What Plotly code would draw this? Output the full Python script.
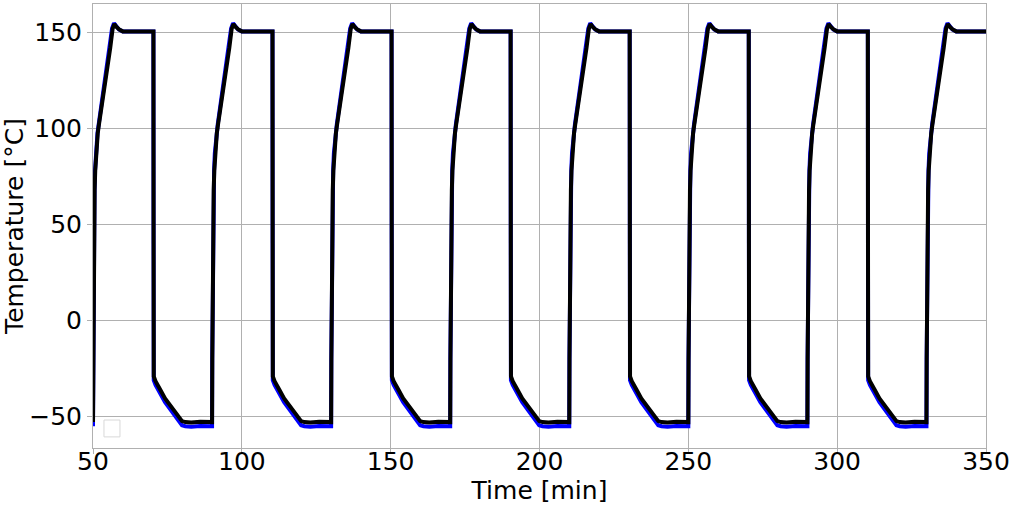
import numpy as np
import plotly.graph_objects as go

# Start time [min] of each heating ramp
cycle_starts = [50, 90, 130, 170, 210, 250, 290, 330]
t_end = 350

# One thermal cycle, time offset from ramp start [min] and temperature [°C]
tau_black = [0.0, 0.08, 0.18, 0.27, 0.4, 0.55, 0.75, 1.0, 1.3, 1.6, 2.0, 2.4, 3.3, 4.2, 5.0, 5.8, 6.6, 7.2, 7.8, 8.8, 10.0, 20.3,
             20.36, 20.42, 21.0, 21.8, 22.6, 24.2, 25.9, 27.9, 29.9, 31.0, 33.0, 36.0, 39.9]
temp_black = [-52.8, -20, 10, 36, 55, 68, 78, 87, 93, 97.5, 102, 106, 115, 124, 132, 142, 152, 154.3, 153, 151.5, 150.5, 150.5,
              40, -29, -31.5, -33.5, -36, -40.5, -44, -48.5, -52.3, -52.8, -53, -52.6, -52.8]

tau_blue = [0.0, 0.06, 0.15, 0.24, 0.36, 0.5, 0.68, 0.92, 1.2, 1.5, 1.9, 2.25, 3.1, 4.0, 4.8, 5.6, 6.4, 7.05, 7.7, 8.7, 10.0, 20.3,
            20.35, 20.4, 21.0, 21.8, 22.6, 24.2, 25.9, 27.9, 29.9, 31.0, 33.0, 36.0, 39.9]
temp_blue = [-55, -20, 10, 36, 55, 68, 78, 87, 93, 97.5, 102, 106, 115, 124, 132, 142, 152, 154.8, 153.3, 151.5, 150.5, 150.5,
             40, -31, -33.5, -35.5, -38, -42.5, -46, -50.5, -54.5, -55, -55.2, -54.8, -55]

# Axis ticks
x_ticks = [50, 100, 150, 200, 250, 300, 350]
y_ticks = [-50, 0, 50, 100, 150]


def build(taus, temps):
    t, y = [], []
    for s in cycle_starts:
        for a, v in zip(taus, temps):
            if s + a <= t_end + 0.31:
                t.append(s + a)
                y.append(v)
    return t, y


tb, yb = build(tau_blue, temp_blue)
tk, yk = build(tau_black, temp_black)

fig = go.Figure()
fig.add_trace(go.Scatter(x=tb, y=yb, mode="lines", line=dict(color="#0000ff", width=4),
                         showlegend=False, hoverinfo="skip"))
fig.add_trace(go.Scatter(x=tk, y=yk, mode="lines", line=dict(color="#000000", width=4),
                         showlegend=False))

FS = 25
axis_common = dict(showgrid=True, gridcolor="#b0b0b0", gridwidth=1, showline=True,
                   linecolor="#b0b0b0", linewidth=1, mirror=True, ticks="outside",
                   ticklen=5, tickcolor="#b0b0b0", zeroline=False,
                   tickfont=dict(family="DejaVu Sans", size=FS, color="#000000"))

fig.update_xaxes(range=[50, 350], tickvals=x_ticks, ticktext=[str(v) for v in x_ticks],
                 ticklabelstandoff=-14,
                 title=dict(text="Time [min]", font=dict(family="DejaVu Sans", size=FS, color="#000000"),
                            standoff=0),
                 **axis_common)
fig.update_yaxes(range=[-66.3, 164.75], tickvals=y_ticks, ticktext=["\u221250", "0", "50", "100", "150"],
                 title=dict(text="Temperature [°C]", font=dict(family="DejaVu Sans", size=FS, color="#000000"),
                            standoff=6),
                 **axis_common)

# Empty legend box (bottom-left)
fig.add_shape(type="rect", xref="paper", yref="paper", x0=0.0123, x1=0.0302, y0=0.025, y1=0.063,
              line=dict(color="#d8d8d8", width=1), fillcolor="rgba(255,255,255,0.8)")

fig.update_layout(width=1014, height=509, margin=dict(l=93, r=28, t=4, b=61),
                  plot_bgcolor="white", paper_bgcolor="white", showlegend=False,
                  font=dict(family="DejaVu Sans"))

fig.write_html("out.html")
